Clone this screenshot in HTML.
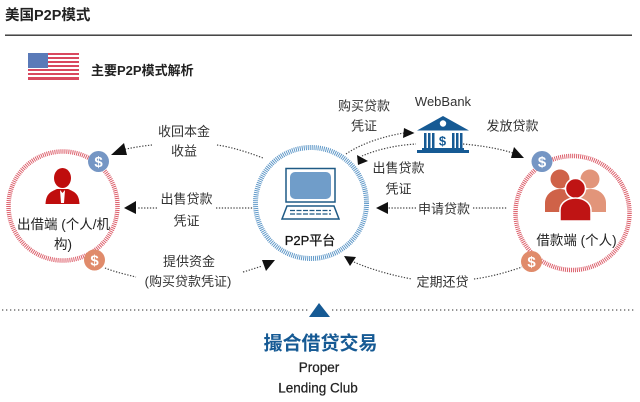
<!DOCTYPE html>
<html><head><meta charset="utf-8"><style>
html,body{margin:0;padding:0;background:#fff}
svg{display:block}
text{font-family:"Liberation Sans","Noto Sans CJK SC",sans-serif;fill:#333;font-size:13px;text-anchor:middle}
.d{fill:none;stroke:#444;stroke-width:1.2;stroke-dasharray:1.3 1.6}
.b{fill:#fff;font-size:15px;font-weight:bold}
</style></head><body>
<svg width="640" height="402" viewBox="0 0 640 402" xmlns="http://www.w3.org/2000/svg">
<rect width="640" height="402" fill="#fff"/>
<text x="5" y="20" style="text-anchor:start;font-size:14.5px;font-weight:bold;fill:#222">美国P2P模式</text>
<rect x="5" y="34.5" width="627" height="1.4" fill="#333"/>
<!-- flag -->
<rect x="28" y="53" width="51" height="27" fill="#fff"/>
<g fill="#d9485f"><rect x="28" y="53" width="51" height="2"/><rect x="28" y="57" width="51" height="2"/><rect x="28" y="61" width="51" height="2"/><rect x="28" y="65" width="51" height="2"/><rect x="28" y="69" width="51" height="2"/><rect x="28" y="73" width="51" height="2"/><rect x="28" y="77" width="51" height="3"/></g>
<rect x="28" y="53" width="20" height="15" fill="#5a7ab8"/>
<text x="91" y="75" style="text-anchor:start;font-size:13px;font-weight:bold;fill:#222">主要P2P模式解析</text>
<!-- rings -->
<circle cx="63" cy="206" r="54.5" fill="#fff" stroke="#dc5f6b" stroke-width="4.5" stroke-dasharray="1 1"/>
<circle cx="311" cy="203" r="55.5" fill="#fff" stroke="#5f98c8" stroke-width="5" stroke-dasharray="1 1"/>
<circle cx="572.5" cy="213" r="57" fill="#fff" stroke="#dc5f6b" stroke-width="4.5" stroke-dasharray="1 1"/>
<!-- badges -->
<circle cx="98.5" cy="161.5" r="10.5" fill="#7596c4"/><text x="98.5" y="167" class="b">$</text>
<circle cx="94.5" cy="260" r="10.5" fill="#e08b6b"/><text x="94.5" y="265.5" class="b">$</text>
<circle cx="542" cy="161.5" r="10.5" fill="#7596c4"/><text x="542" y="167" class="b">$</text>
<circle cx="531.5" cy="261.5" r="10.5" fill="#e08b6b"/><text x="531.5" y="267" class="b">$</text>
<!-- person -->
<g fill="#bf0d0d">
<ellipse cx="62.5" cy="178" rx="8.5" ry="10"/>
<path d="M45.5 204 C46 194 50 192 57 189 L68 189 C75 192 79 194 79.5 204 Z"/>
</g>
<path d="M60 190 L62.5 193 L65 190 L64 203 L61 203 Z" fill="#fff"/>
<text x="63.5" y="229" style="font-size:13.5px;fill:#222">出借端 (个人/机</text>
<text x="63" y="249" style="font-size:13.5px;fill:#222">构)</text>
<!-- laptop -->
<rect x="286" y="168.5" width="49" height="33.5" fill="#fff" stroke="#1f5a85" stroke-width="1.5"/>
<rect x="290" y="172" width="41" height="27" rx="5" fill="#709dc9"/>
<path d="M287 206 H334 L339 219 H282 Z" fill="#fff" stroke="#1f5a85" stroke-width="1.5"/>
<path d="M290 210.5 H331 M290 214 H331" stroke="#1f5a85" stroke-width="1.3" stroke-dasharray="5 1.5"/>
<text x="310" y="245" style="font-size:13px;fill:#111;stroke:#111;stroke-width:.25">P2P平台</text>
<!-- people -->
<g>
<circle cx="560" cy="179" r="9.5" fill="#cf6248"/>
<path d="M545 212 V203 C545 195 552 189 560 189 C568 189 575 195 575 203 V212 Z" fill="#cf6248"/>
<circle cx="590" cy="179" r="9.5" fill="#e2957a"/>
<path d="M576 212 V203 C576 195 582 189 591 189 C599 189 606 195 606 203 V212 Z" fill="#e2957a"/>
<circle cx="575.5" cy="188.5" r="10" fill="#bf1414" stroke="#fff" stroke-width="1.5"/>
<path d="M560 221 V210 C560 203 567 198 575.5 198 C584 198 591 203 591 210 V221 Z" fill="#bf1414" stroke="#fff" stroke-width="1.5"/>
</g>
<text x="576.5" y="245" style="font-size:13.5px;fill:#222">借款端 (个人)</text>
<!-- bank -->
<g fill="#165a94">
<path d="M443 116 L469 130.5 H417 Z"/>
<rect x="424" y="133" width="2.5" height="15"/><rect x="428" y="133" width="2.5" height="15"/><rect x="432" y="133" width="2.5" height="15"/>
<rect x="452" y="133" width="2.5" height="15"/><rect x="456" y="133" width="2.5" height="15"/><rect x="460" y="133" width="2.5" height="15"/>
<rect x="422" y="148" width="42" height="2"/>
<rect x="417" y="150" width="52" height="3"/>
</g>
<circle cx="443" cy="123.5" r="3.2" fill="#fff"/>
<text x="442.5" y="145.5" style="font-size:13px;font-weight:bold;fill:#165a94">$</text>
<text x="443" y="106" style="font-size:13px;fill:#333">WebBank</text>
<!-- connectors -->
<path class="d" d="M346 154 C362 143 385 136 404 133"/>
<path class="d" d="M362 156 C378 149 398 145 416 144"/>
<path class="d" d="M463 144 C485 146 500 149 513 153"/>
<path class="d" d="M152 145 C142 146 130 148 122 150"/>
<path class="d" d="M217 145 C232 147 250 153 263 158"/>
<path class="d" d="M157 208 H137"/>
<path class="d" d="M216 208 H253"/>
<path class="d" d="M105 268 C115 272 128 275 136 277"/>
<path class="d" d="M243 272 C250 270 256 268 262 266"/>
<path class="d" d="M416 208 H388"/>
<path class="d" d="M473 208 H507"/>
<path class="d" d="M354 262 C372 270 395 276 412 279"/>
<path class="d" d="M474 279 C490 277 508 272 522 267"/>
<path d="M2 310 H308 M332 310 H636" stroke="#555" stroke-width="1.3" stroke-dasharray="1.3 2.7" fill="none"/>
<!-- arrowheads -->
<g fill="#111">
<path d="M404 128 L414.5 133 L403 138 Z"/>
<path d="M357 155 L368 161 L358 165 Z"/>
<path d="M514 147 L524 158 L511 158 Z"/>
<path d="M124 143 L111 155 L127 155 Z"/>
<path d="M136 201 L124 208 L136 214 Z"/>
<path d="M262 260 L275 260 L266 271 Z"/>
<path d="M388 202 L376 208 L388 214 Z"/>
<path d="M344 256 L356 257 L350 266 Z"/>
</g>
<path d="M319 303 L330 317 H309 Z" fill="#165a94"/>
<!-- labels -->
<text x="184" y="136">收回本金</text><text x="184" y="155.5">收益</text>
<text x="186.5" y="203.5">出售贷款</text><text x="186.5" y="225.5">凭证</text>
<text x="189" y="266">提供资金</text><text x="188" y="286">(购买贷款凭证)</text>
<text x="364" y="110.5">购买贷款</text><text x="364" y="130.5">凭证</text>
<text x="512.5" y="130.5">发放贷款</text>
<text x="398.5" y="172.5">出售贷款</text><text x="398.5" y="193.5">凭证</text>
<text x="444" y="213.5">申请贷款</text>
<text x="442.5" y="286.5">定期还贷</text>
<text x="320.5" y="349.5" style="font-size:19px;font-weight:bold;fill:#165a94">撮合借贷交易</text>
<text x="319" y="372" style="font-size:13.5px;fill:#222;stroke:#222;stroke-width:.25">Proper</text>
<text x="318" y="392.5" style="font-size:13.5px;fill:#222;stroke:#222;stroke-width:.25">Lending Club</text>
</svg>
</body></html>
